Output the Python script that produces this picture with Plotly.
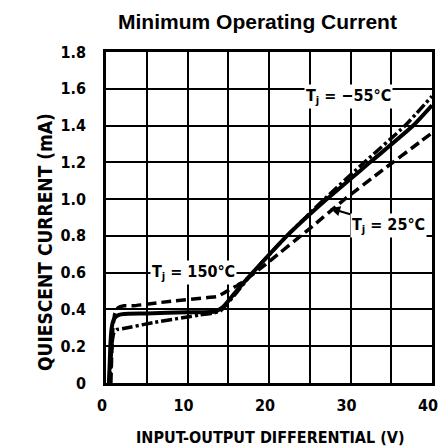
import plotly.graph_objects as go

# ---- data ----
x_25 = [0.35, 0.45, 0.55, 0.7, 0.9, 1.2, 1.6, 2.2, 5, 10, 13.5, 14.5, 16, 18, 22.2, 27.1, 32.4, 37.7, 40]
y_25 = [0.0, 0.1, 0.22, 0.30, 0.34, 0.36, 0.37, 0.375, 0.378, 0.385, 0.39, 0.42, 0.5, 0.6, 0.8, 1.0, 1.2, 1.4, 1.51]

x_150 = [0.6, 0.7, 0.85, 1.1, 1.5, 2.2, 3.3, 8, 12.5, 13.6, 14.3, 16.8, 20, 25, 29.3, 34, 38.5, 40]
y_150 = [0.0, 0.15, 0.3, 0.38, 0.41, 0.42, 0.42, 0.445, 0.465, 0.47, 0.485, 0.55, 0.66, 0.84, 1.0, 1.16, 1.31, 1.36]

x_m55 = [0.5, 0.6, 0.75, 0.95, 1.3, 2.0, 6, 11.5, 13, 14, 16, 18, 22.2, 26.8, 31.7, 36.7, 40]
y_m55 = [0.0, 0.12, 0.22, 0.27, 0.29, 0.295, 0.33, 0.37, 0.38, 0.39, 0.49, 0.6, 0.8, 1.0, 1.2, 1.4, 1.56]

x_ticks = [0, 10, 20, 30, 40]
x_ticktext = ["0", "10", "20", "30", "40"]
x_grid_step = 5
y_ticks = [0, 0.2, 0.4, 0.6, 0.8, 1.0, 1.2, 1.4, 1.6, 1.8]
y_ticktext = ["0", "0.2", "0.4", "0.6", "0.8", "1.0", "1.2", "1.4", "1.6", "1.8"]

title_text = "Minimum Operating Current"
x_title = "INPUT-OUTPUT DIFFERENTIAL (V)"
y_title = "QUIESCENT CURRENT (mA)"

NARROW = "DejaVu Sans Condensed, Liberation Sans Narrow, Arial Narrow, sans-serif"

fig = go.Figure()
fig.add_trace(go.Scatter(x=x_150, y=y_150, mode="lines", name="150",
                         line=dict(color="black", width=3.5, dash="10px,5px", shape="spline", smoothing=0.5)))
fig.add_trace(go.Scatter(x=x_m55, y=y_m55, mode="lines", name="-55",
                         line=dict(color="black", width=3.5, dash="11px,3px,3px,3px", shape="spline", smoothing=0.5)))
fig.add_trace(go.Scatter(x=x_25, y=y_25, mode="lines", name="25",
                         line=dict(color="black", width=4, shape="spline", smoothing=0.5)))

lab_font = dict(family=NARROW, size=16, color="black", weight="bold")
fig.add_annotation(x=29.7, y=1.56, text="T<sub>j</sub> = \u221255\u00b0C", showarrow=False,
                   font=lab_font, bgcolor="white", borderpad=1)
fig.add_annotation(x=27.5, y=0.95, text="T<sub>j</sub> = 25\u00b0C", showarrow=True, ax=58, ay=17,
                   arrowhead=2, arrowsize=1, arrowwidth=2, arrowcolor="black",
                   font=lab_font, bgcolor="white", borderpad=1)
fig.add_annotation(x=10.7, y=0.60, text="T<sub>j</sub> = 150\u00b0C", showarrow=False,
                   font=lab_font, bgcolor="white", borderpad=1)

fig.add_annotation(xref="paper", yref="paper", x=-0.227, y=0.426, text=y_title, textangle=-90,
                   showarrow=False, font=dict(family=NARROW, size=19, color="black", weight="bold"))
fig.add_annotation(xref="paper", yref="paper", x=0.503, y=-0.166, yanchor="middle", text=x_title,
                   showarrow=False, font=dict(family=NARROW, size=16, color="black", weight="bold"))

# the page body adds an 8px offset; the figure is sized/margined so the plot lands where the reference has it
fig.update_layout(
    width=438, height=438,
    margin=dict(l=98, r=14, t=44, b=63, autoexpand=False),
    paper_bgcolor="white", plot_bgcolor="white",
    showlegend=False,
    title=dict(text=title_text, x=0.5696, xanchor="center", y=0.968, yanchor="middle",
               font=dict(family="Liberation Sans, Arial, sans-serif", size=21, color="black", weight="bold")),
)
fig.update_xaxes(range=[0, 40], tickvals=x_ticks, ticktext=x_ticktext,
                 showgrid=True, gridcolor="black", gridwidth=1.5,
                 minor=dict(dtick=x_grid_step, showgrid=True, gridcolor="black", gridwidth=1.5, ticks=""),
                 showline=True, linecolor="black", linewidth=2.5, mirror=True,
                 ticks="", ticklabelstandoff=6, ticklabelshift=-4, zeroline=False,
                 tickfont=dict(family=NARROW, size=16, color="black", weight="bold"))
fig.update_yaxes(range=[0, 1.8], tickvals=y_ticks, ticktext=y_ticktext,
                 showgrid=True, gridcolor="black", gridwidth=1.5,
                 showline=True, linecolor="black", linewidth=2.5, mirror=True,
                 ticks="", ticklabelstandoff=14, zeroline=False,
                 tickfont=dict(family=NARROW, size=16, color="black", weight="bold"))

fig.write_html("out.html")
